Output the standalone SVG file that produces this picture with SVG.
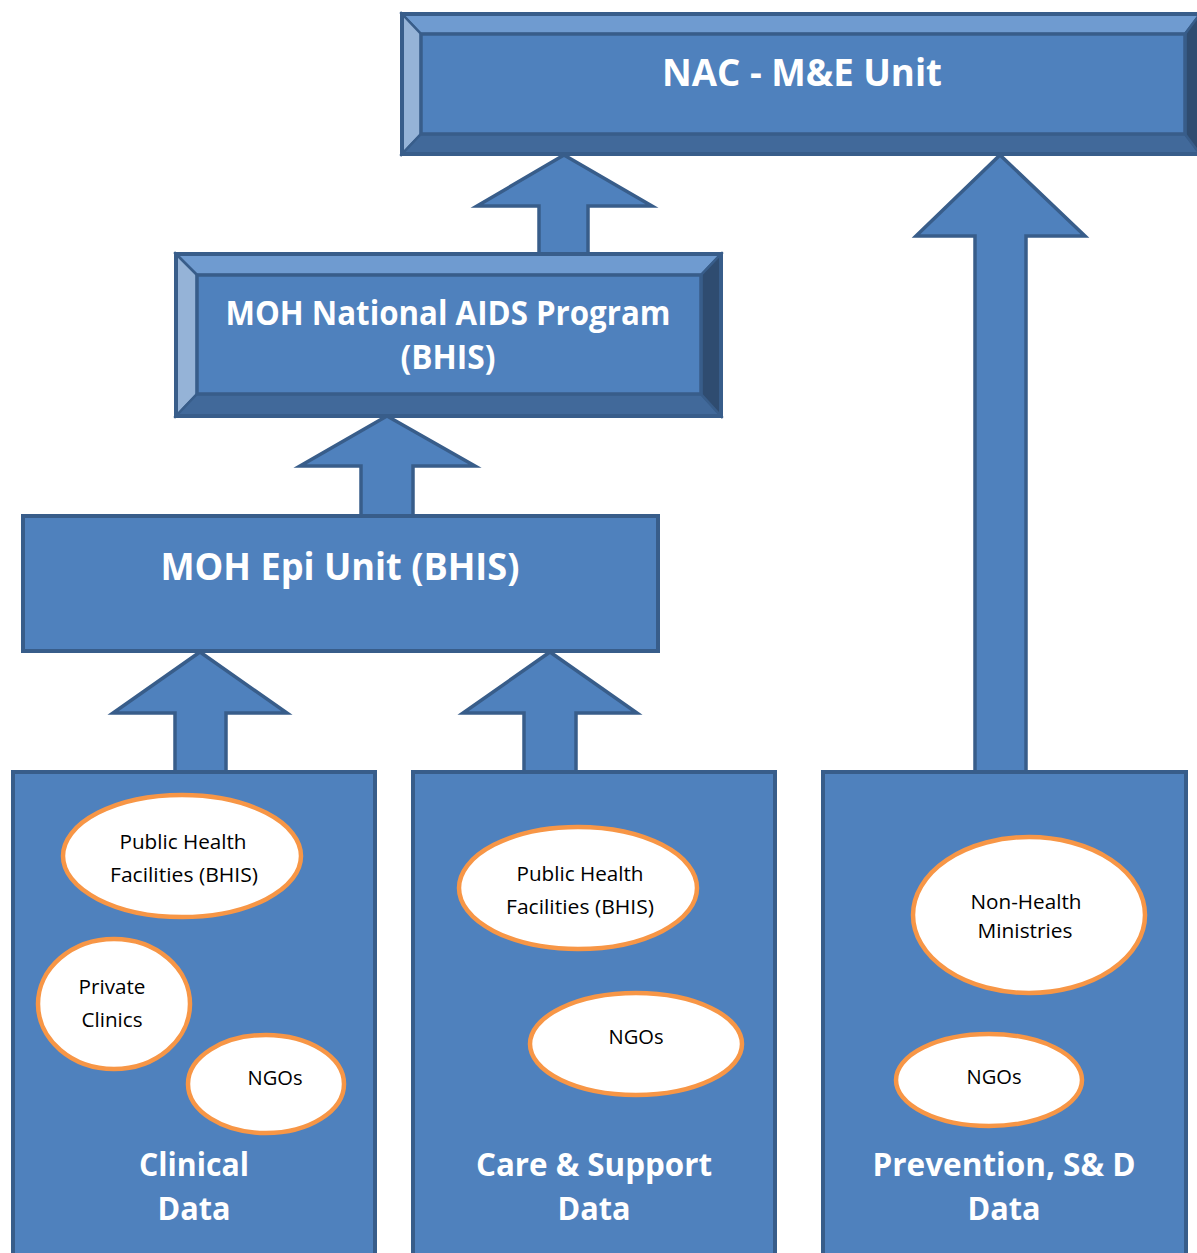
<svg xmlns="http://www.w3.org/2000/svg" width="1197" height="1253" viewBox="0 0 1197 1253">
<style>
.arrow{fill:#4f81bd;stroke:#385d8a;stroke-width:3.5;stroke-linejoin:miter}
.box{fill:#4f81bd;stroke:#385d8a;stroke-width:4}
.bt{fill:#6f9bd0;stroke:#385d8a;stroke-width:2.5}
.bl{fill:#95b3d7;stroke:#385d8a;stroke-width:2.5}
.bb{fill:#41699a;stroke:#385d8a;stroke-width:2.5}
.br{fill:#2f4c70;stroke:#385d8a;stroke-width:2.5}
.inner{fill:#4f81bd;stroke:#385d8a;stroke-width:3.5}
.ell{fill:#ffffff;stroke:#f79646;stroke-width:4.5}
.tw{font-family:"Open Sans","Liberation Sans",sans-serif;font-weight:700;fill:#ffffff;text-anchor:middle}
.tk{font-family:"Open Sans","Liberation Sans",sans-serif;font-weight:400;fill:#000000;text-anchor:middle;font-size:20px}
</style>
<rect width="1197" height="1253" fill="#ffffff"/>
<g id="connectors">
<polygon class="arrow" points="564,155 652,206 588,206 588,254 539,254 539,206 477,206"/>
<polygon class="arrow" points="1000,155 1085,236 1026,236 1026,773 975,773 975,236 916,236"/>
<polygon class="arrow" points="387,416 475,466 413,466 413,517 361,517 361,466 300,466"/>
<polygon class="arrow" points="200,652 287,713 226,713 226,773 175,773 175,713 113,713"/>
<polygon class="arrow" points="550,652 637,713 576,713 576,773 524,773 524,713 463,713"/>
</g>
<g id="nac">
<polygon class="bt" points="402,14 1200,14 1185,34 421,34"/>
<polygon class="bl" points="402,14 421,34 421,134 402,154"/>
<polygon class="bb" points="402,154 421,134 1185,134 1200,154"/>
<polygon class="br" points="1200,14 1185,34 1185,134 1200,154"/>
<rect class="inner" x="421" y="34" width="764" height="100"/>
<rect x="402" y="14" width="798" height="140" fill="none" stroke="#385d8a" stroke-width="4"/>
<text class="tw" x="802" y="86" font-size="37" textLength="280" lengthAdjust="spacingAndGlyphs">NAC - M&amp;E Unit</text>
</g>
<g id="moh-nap">
<polygon class="bt" points="176,254 721,254 701,275 197,275"/>
<polygon class="bl" points="176,254 197,275 197,394 176,416"/>
<polygon class="bb" points="176,416 197,394 701,394 721,416"/>
<polygon class="br" points="721,254 701,275 701,394 721,416"/>
<rect class="inner" x="197" y="275" width="504" height="119"/>
<rect x="176" y="254" width="545" height="162" fill="none" stroke="#385d8a" stroke-width="4"/>
<text class="tw" x="448" y="325" font-size="34" textLength="445" lengthAdjust="spacingAndGlyphs">MOH National AIDS Program</text>
<text class="tw" x="448" y="369" font-size="34" textLength="95" lengthAdjust="spacingAndGlyphs">(BHIS)</text>
</g>
<g id="moh-epi">
<rect class="box" x="23" y="516" width="635" height="135"/>
<text class="tw" x="340" y="580" font-size="37" textLength="359" lengthAdjust="spacingAndGlyphs">MOH Epi Unit (BHIS)</text>
</g>
<g id="clinical">
<rect class="box" x="13" y="772" width="362" height="490"/>
<text class="tw" x="194" y="1176" font-size="33" textLength="110" lengthAdjust="spacingAndGlyphs">Clinical</text>
<text class="tw" x="194" y="1220" font-size="33" textLength="73" lengthAdjust="spacingAndGlyphs">Data</text>
</g>
<g id="care">
<rect class="box" x="413" y="772" width="362" height="490"/>
<text class="tw" x="594" y="1176" font-size="33" textLength="236" lengthAdjust="spacingAndGlyphs">Care &amp; Support</text>
<text class="tw" x="594" y="1220" font-size="33" textLength="73" lengthAdjust="spacingAndGlyphs">Data</text>
</g>
<g id="prevention">
<rect class="box" x="823" y="772" width="363" height="490"/>
<text class="tw" x="1004" y="1176" font-size="33" textLength="263" lengthAdjust="spacingAndGlyphs">Prevention, S&amp; D</text>
<text class="tw" x="1004" y="1220" font-size="33" textLength="73" lengthAdjust="spacingAndGlyphs">Data</text>
</g>
<g id="phf1">
<ellipse class="ell" cx="182" cy="856" rx="119" ry="61"/>
<text class="tk" x="183" y="849" textLength="127" lengthAdjust="spacingAndGlyphs">Public Health</text>
<text class="tk" x="184" y="882" textLength="148" lengthAdjust="spacingAndGlyphs">Facilities (BHIS)</text>
</g>
<g id="private">
<ellipse class="ell" cx="114" cy="1004" rx="76" ry="65"/>
<text class="tk" x="112" y="994" textLength="67" lengthAdjust="spacingAndGlyphs">Private</text>
<text class="tk" x="112" y="1027" textLength="61" lengthAdjust="spacingAndGlyphs">Clinics</text>
</g>
<g id="ngos1">
<ellipse class="ell" cx="266" cy="1084" rx="78" ry="49"/>
<text class="tk" x="275" y="1085" textLength="55" lengthAdjust="spacingAndGlyphs">NGOs</text>
</g>
<g id="phf2">
<ellipse class="ell" cx="578" cy="888" rx="119" ry="61"/>
<text class="tk" x="580" y="881" textLength="127" lengthAdjust="spacingAndGlyphs">Public Health</text>
<text class="tk" x="580" y="914" textLength="148" lengthAdjust="spacingAndGlyphs">Facilities (BHIS)</text>
</g>
<g id="ngos2">
<ellipse class="ell" cx="636" cy="1044" rx="106" ry="51"/>
<text class="tk" x="636" y="1044" textLength="55" lengthAdjust="spacingAndGlyphs">NGOs</text>
</g>
<g id="nonhealth">
<ellipse class="ell" cx="1029" cy="915" rx="116" ry="78"/>
<text class="tk" x="1026" y="909" textLength="111" lengthAdjust="spacingAndGlyphs">Non-Health</text>
<text class="tk" x="1025" y="938" textLength="95" lengthAdjust="spacingAndGlyphs">Ministries</text>
</g>
<g id="ngos3">
<ellipse class="ell" cx="989" cy="1080" rx="93" ry="46"/>
<text class="tk" x="994" y="1084" textLength="55" lengthAdjust="spacingAndGlyphs">NGOs</text>
</g>
</svg>
